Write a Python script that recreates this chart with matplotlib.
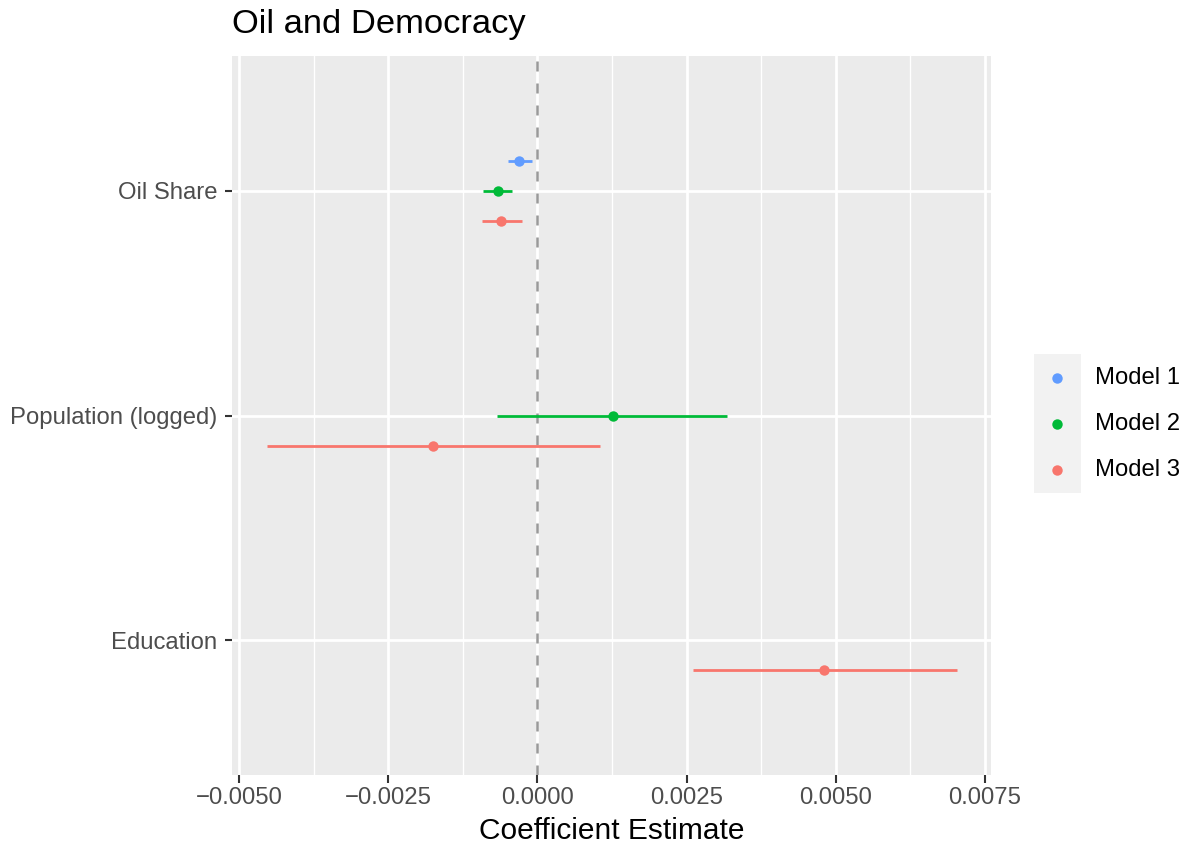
# Coefficient plot: Oil and Democracy, three models
import matplotlib
matplotlib.use('Agg')
import matplotlib.pyplot as plt
from matplotlib.ticker import FixedLocator, FuncFormatter
from matplotlib.patches import Rectangle

plt.rcParams['font.family'] = ['Liberation Sans', 'DejaVu Sans']

# data
terms = ['Oil Share', 'Population (logged)', 'Education']
models = ['Model 1', 'Model 2', 'Model 3']
model_colors = ['#619CFF', '#00BA38', '#F8766D']

row_term = ['Oil Share', 'Oil Share', 'Oil Share', 'Population (logged)', 'Population (logged)', 'Education']
row_model = ['Model 1', 'Model 2', 'Model 3', 'Model 2', 'Model 3', 'Model 3']
estimate = [-0.000305, -0.000666, -0.000604, 0.001267, -0.001753, 0.004812]
conf_low = [-0.000500, -0.000909, -0.000931, -0.000676, -0.004544, 0.002609]
conf_high = [-0.000097, -0.000433, -0.000260, 0.003171, 0.001044, 0.007027]

x_ticks = [-0.005, -0.0025, 0.0, 0.0025, 0.005, 0.0075]

W, H = 1186, 843
fig = plt.figure(figsize=(W / 100, H / 100), dpi=100)
ax = fig.add_axes([232 / W, (H - 775) / H, (991 - 232) / W, (775 - 56) / H])
ax.set_facecolor('#EBEBEB')
for s in ax.spines.values():
    s.set_visible(False)

# dodge offsets by model (top to bottom)
dodge = 0.1336
offs = {m: (i - 1) * dodge for i, m in enumerate(models)}
cols = dict(zip(models, model_colors))

for t, m, est, lo, hi in zip(row_term, row_model, estimate, conf_low, conf_high):
    y = terms.index(t) + offs[m]
    ax.plot([lo, hi], [y, y], color=cols[m], lw=2.0, solid_capstyle='butt', zorder=3)
    ax.plot(est, y, 'o', color=cols[m], ms=7.5, mec='none', zorder=4)

ax.axvline(0, color='#999999', lw=1.8, ls=(0, (4, 4.8)), zorder=2)

# scales, ggplot style expansion
lo_all, hi_all = min(conf_low), max(conf_high)
pad = 0.05 * (hi_all - lo_all)
ax.set_xlim(lo_all - pad, hi_all + pad)
ax.set_ylim(len(terms) - 1 + 0.6, -0.6)

ax.xaxis.set_major_locator(FixedLocator(x_ticks))
minor = [(a + b) / 2 for a, b in zip(x_ticks[:-1], x_ticks[1:])]
ax.xaxis.set_minor_locator(FixedLocator(minor))
ax.xaxis.set_major_formatter(FuncFormatter(lambda v, p: ('%.4f' % v).replace('-', '\u2212')))
ax.set_yticks(range(len(terms)))
ax.set_yticklabels(terms)

ax.grid(which='major', color='white', lw=2.0, zorder=1)
ax.grid(which='minor', axis='x', color='white', lw=1.0, zorder=1)
ax.set_axisbelow(True)

ax.tick_params(which='major', length=5.4, width=1.5, color='#333333',
               labelsize=17.2, labelcolor='#4D4D4D', pad=3)
ax.tick_params(axis='y', which='major', pad=5)
ax.tick_params(which='minor', length=0)

ax.set_xlabel('Coefficient Estimate', fontsize=21.5, color='black', labelpad=6)
fig.text(232 / W, 1 - 25 / H, 'Oil and Democracy', fontsize=24.8, ha='left', va='center')

# legend drawn by hand
fig.patches.append(Rectangle((1034 / W, 1 - 493 / H), 47 / W, 139 / H,
                             transform=fig.transFigure, facecolor='#F2F2F2', edgecolor='none'))
for i, m in enumerate(models):
    yy = 1 - (378 + 46 * i) / H
    fig.lines.append(plt.Line2D([1057 / W], [yy], marker='o', color=model_colors[i], ms=7.5,
                                mec='none', transform=fig.transFigure))
    fig.text(1095 / W, yy, m, fontsize=17.2, ha='left', va='center')

plt.savefig('out.png', dpi=100)
